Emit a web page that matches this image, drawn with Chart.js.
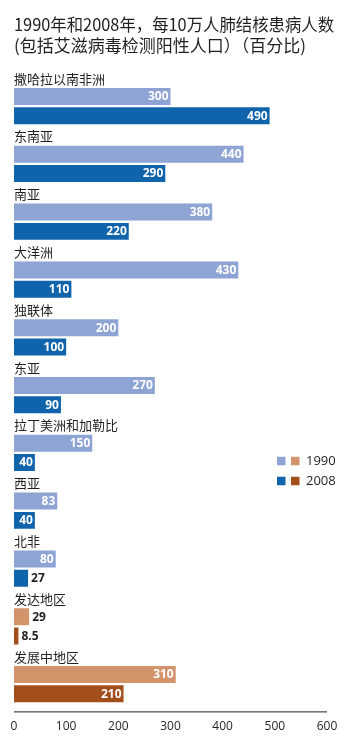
<!DOCTYPE html>
<html>
<head>
<meta charset="utf-8">
<script src="https://cdn.jsdelivr.net/npm/chart.js@4"></script>
<style>
html,body{margin:0;padding:0;background:#fff;}
#wrap{width:356px;height:741px;position:relative;}
</style>
</head>
<body>
<div id="wrap"><canvas id="c" width="356" height="741"></canvas></div>
<script>
const titleLines = ['1990年和2008年，每10万人肺结核患病人数', '(包括艾滋病毒检测阳性人口）（百分比)'];
const regions = ['撒哈拉以南非洲','东南亚','南亚','大洋洲','独联体','东亚','拉丁美洲和加勒比','西亚','北非','发达地区','发展中地区'];
const isGroup = [false,false,false,false,false,false,false,false,false,true,true];
const years = ['1990','2008'];
const v1990 = [300,440,380,430,200,270,150,83,80,29,310];
const v2008 = [490,290,220,110,100,90,40,40,27,8.5,210];
const xTicks = [0,100,200,300,400,500,600];

const COL = {
  r1990:'#8da4d4', r2008:'#0f64ab',
  g1990:'#d3946c', g2008:'#a24f1b'
};
const CJK = '"Noto Sans CJK SC", "Noto Sans", sans-serif';
const NUM = '"Open Sans", "Liberation Sans", sans-serif';

const labelPlugin = {
  id:'labels',
  afterDatasetsDraw(chart){
    const ctx = chart.ctx;
    const ys = chart.scales.y;
    const ca = chart.chartArea;
    const band = ca.height / regions.length;
    ctx.save();
    // title
    ctx.font = '17px ' + CJK;
    ctx.fillStyle = '#231f20';
    ctx.textAlign = 'left';
    ctx.textBaseline = 'middle';
    ctx.fillText(titleLines[0], 14, 25, 320);
    ctx.fillText(titleLines[1], 14, 45.5, 302);
    // region labels
    ctx.font = '13px ' + CJK;
    regions.forEach((r,i)=>{
      const y = ys.getPixelForValue(i) - band/3 + 1.5;
      ctx.fillText(r, ca.left, y);
    });
    // value labels
    ctx.font = 'bold 12px ' + NUM;
    [1,2].forEach(di=>{
      const meta = chart.getDatasetMeta(di);
      const data = chart.data.datasets[di].data;
      meta.data.forEach((el,i)=>{
        const v = data[i];
        const txt = String(v);
        if (v >= 40){
          ctx.fillStyle = '#ffffff';
          ctx.textAlign = 'right';
          ctx.fillText(txt, el.x - 2, el.y + 0.5);
        } else {
          ctx.fillStyle = '#231f20';
          ctx.textAlign = 'left';
          ctx.fillText(txt, el.x + 3, el.y + 0.5);
        }
      });
    });
    // x axis line
    const ly = ca.bottom + 8.5;
    ctx.strokeStyle = '#231f20';
    ctx.lineWidth = 1;
    ctx.beginPath();
    ctx.moveTo(ca.left, ly);
    ctx.lineTo(ca.right, ly);
    ctx.stroke();
    // legend
    const lx = 277, lyy = [461, 481];
    const sw = 8.5;
    const pairs = [[COL.r1990, COL.g1990],[COL.r2008, COL.g2008]];
    ctx.font = '13px ' + NUM;
    ctx.textAlign = 'left';
    years.forEach((yr,k)=>{
      ctx.fillStyle = pairs[k][0];
      ctx.fillRect(lx, lyy[k]-sw/2, sw, sw);
      ctx.fillStyle = pairs[k][1];
      ctx.fillRect(lx+14, lyy[k]-sw/2, sw, sw);
      ctx.fillStyle = '#231f20';
      ctx.fillText(yr, lx+29, lyy[k]+0.5);
    });
    ctx.restore();
  }
};

new Chart(document.getElementById('c'), {
  type:'bar',
  data:{
    labels: regions,
    datasets:[
      { label:'', data: regions.map(()=>null), backgroundColor:'rgba(0,0,0,0)' },
      { label: years[0], data: v1990, backgroundColor: v1990.map((_,i)=> isGroup[i] ? COL.g1990 : COL.r1990) },
      { label: years[1], data: v2008, backgroundColor: v2008.map((_,i)=> isGroup[i] ? COL.g2008 : COL.r2008) }
    ]
  },
  options:{
    indexAxis:'y',
    responsive:false,
    animation:false,
    devicePixelRatio:1,
    categoryPercentage:1.0,
    barPercentage:0.88,
    layout:{ padding:{ left:14, right:29, top:67.6, bottom:7.6 } },
    plugins:{
      legend:{ display:false },
      tooltip:{ enabled:false },
      title:{ display:false }
    },
    scales:{
      y:{ display:false },
      x:{
        min:0, max:600,
        afterBuildTicks(axis){ axis.ticks = xTicks.map(v=>({value:v})); },
        afterFit(scale){ scale.height = 30; scale.paddingLeft = 0; scale.paddingRight = 0; },
        grid:{ display:false, drawTicks:false },
        border:{ display:false },
        ticks:{ color:'#231f20', padding:16, font:{ family: NUM, size:12 } }
      }
    }
  },
  plugins:[labelPlugin]
});
</script>
</body>
</html>
